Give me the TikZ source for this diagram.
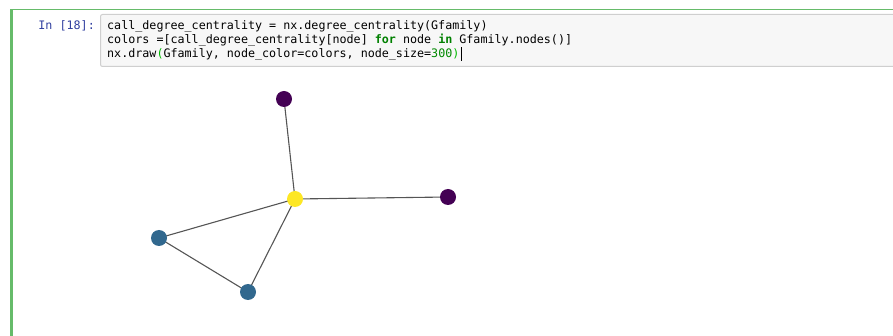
\documentclass[tikz,border=0pt]{standalone}
\usepackage{fontspec}
\setmonofont{DejaVu Sans Mono}
\usepackage{xcolor}
\usepackage{tikz}
\usetikzlibrary{backgrounds}
\definecolor{nbgreen}{RGB}{102,187,106}
\definecolor{nbboxfill}{RGB}{247,247,247}
\definecolor{nbboxline}{RGB}{207,207,207}
\definecolor{nbprompt}{RGB}{48,63,159}
\definecolor{nbkeyword}{RGB}{0,128,0}
\definecolor{nbnumber}{RGB}{0,136,0}
\definecolor{nbbracket}{RGB}{0,187,0}
\definecolor{nbedge}{RGB}{85,85,85}
\definecolor{nbpurple}{RGB}{68,1,84}
\definecolor{nbteal}{RGB}{49,104,142}
\definecolor{nbyellow}{RGB}{253,231,37}
\newcommand{\codeFont}{\ttfamily\fontsize{11.7}{14}\selectfont}
\newcommand{\kw}[1]{\textcolor{nbkeyword}{\bfseries #1}}
\tikzset{
  cellBar/.style={
    fill=nbgreen,
    draw=none
  },
  codeBox/.style={
    draw=nbboxline,
    fill=nbboxfill,
    rounded corners=2pt,
    line width=1pt
  },
  codeLine/.style={
    anchor=base west,
    inner sep=0pt,
    font=\codeFont
  },
  promptText/.style={
    anchor=base east,
    inner sep=0pt,
    font=\codeFont,
    text=nbprompt
  },
  graphNode/.style={
    circle,
    draw=none,
    inner sep=0pt,
    minimum size=16pt
  },
  graphEdge/.style={
    draw=nbedge,
    line width=1.1pt
  }
}

\begin{document}
\begin{tikzpicture}[x=1pt, y=-1pt]
  \useasboundingbox (0,0) rectangle (893,336);
  \clip (0,0) rectangle (893,336);

  % notebook cell
  \fill[cellBar] (10,9) rectangle (893,10);
  \fill[cellBar] (10,9) rectangle (13,336);
  \draw[codeBox] (100.5,14.5) rectangle (900,66.5);

  \node[promptText] (prompt) at (95,30) {In [18]:};
  \node[codeLine] (line1) at (107,30)
    {call\_degree\_centrality = nx.degree\_centrality(Gfamily)};
  \node[codeLine] (line2) at (107,44)
    {colors =[call\_degree\_centrality[node] \kw{for} node \kw{in} Gfamily.nodes()]};
  \node[codeLine] (line3) at (107,58)
    {nx.draw\textcolor{nbbracket}{(}Gfamily, node\_color=colors, node\_size=\textcolor{nbnumber}{300}\textcolor{nbbracket}{)}};
  \draw[line width=1pt] ([xshift=2pt,yshift=-3pt]line3.base east) -- ++(0,-14);

  % graph drawn by nx.draw
  \node[graphNode, fill=nbyellow] (hub) at (295,199) {};
  \node[graphNode, fill=nbpurple] (top) at (284,99) {};
  \node[graphNode, fill=nbpurple] (right) at (448,197) {};
  \node[graphNode, fill=nbteal] (left) at (159,238) {};
  \node[graphNode, fill=nbteal] (bottom) at (248,292) {};

  \begin{scope}[on background layer]
    \draw[graphEdge] (hub.center) -- (top.center);
    \draw[graphEdge] (hub.center) -- (right.center);
    \draw[graphEdge] (hub.center) -- (left.center);
    \draw[graphEdge] (hub.center) -- (bottom.center);
    \draw[graphEdge] (left.center) -- (bottom.center);
  \end{scope}
\end{tikzpicture}
\end{document}
